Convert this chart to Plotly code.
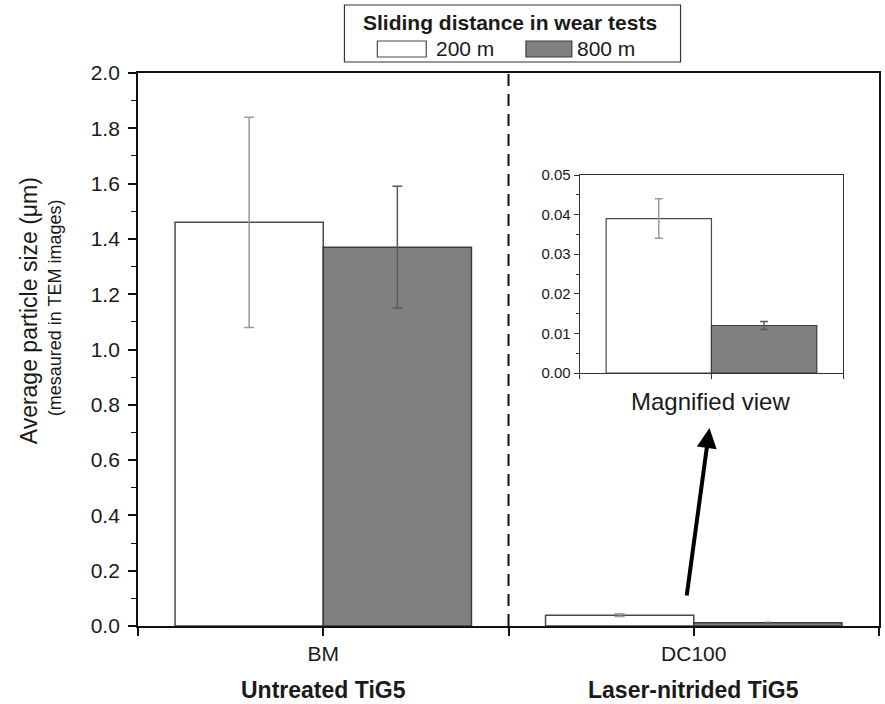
import plotly.graph_objects as go

categories = ["BM", "DC100"]
group_labels = ["Untreated TiG5", "Laser-nitrided TiG5"]
series_names = ["200 m", "800 m"]
size_200 = [1.46, 0.039]
err_200 = [0.38, 0.005]
size_800 = [1.37, 0.012]
err_800 = [0.22, 0.001]
inset_index = 1  # DC100 magnified
legend_title = "Sliding distance in wear tests"

FONT = "Liberation Sans, Arial, sans-serif"
TXT = "#1a1a1a"
xpos = list(range(len(categories)))

fig = go.Figure()

styles = [
    dict(fill="#ffffff", line="#4a4a4a", err="#9a9a9a"),
    dict(fill="#808080", line="#3c3c3c", err="#5a5a5a"),
]
vals = [size_200, size_800]
errs = [err_200, err_800]

for i, name in enumerate(series_names):
    st = styles[i]
    fig.add_trace(go.Bar(
        x=xpos, y=vals[i], name=name, offsetgroup=str(i),
        marker=dict(color=st["fill"], line=dict(color=st["line"], width=1.5)),
        error_y=dict(type="data", array=errs[i], color=st["err"], thickness=1.5, width=5),
        xaxis="x", yaxis="y", showlegend=False,
    ))
    fig.add_trace(go.Bar(
        x=[0], y=[vals[i][inset_index]], name=name, offsetgroup=str(i),
        marker=dict(color=st["fill"], line=dict(color=st["line"], width=1.2)),
        error_y=dict(type="data", array=[errs[i][inset_index]], color=st["err"], thickness=1.5, width=4),
        xaxis="x2", yaxis="y2", showlegend=False,
    ))

L, R, T, B = 138, 4, 73, 78
W, H = 885, 704
pw, ph = W - L - R, H - T - B

def px_x(p):
    return (p - L) / pw

def px_y(p):
    return (H - B - p) / ph

def dx(p):
    return -0.5 + 2.0 * (p - L) / pw

def dy(p):
    return 2.0 * (H - B - p) / ph

fig.update_layout(
    width=W, height=H,
    margin=dict(l=L, r=R, t=T, b=B),
    paper_bgcolor="white", plot_bgcolor="white",
    barmode="group", bargap=0.2, bargroupgap=0,
    font=dict(family=FONT, color=TXT, size=18),
    showlegend=False,
    xaxis=dict(
        domain=[0, 1], range=[-0.5, 1.5],
        tickmode="array", tickvals=[-0.5, 0, 0.5, 1, 1.5],
        ticktext=["", categories[0], "", categories[1], ""],
        ticks="outside", ticklen=8, tickwidth=1.5, tickcolor="#111",
        showline=True, linecolor="#111", linewidth=1.8, mirror=True,
        showgrid=False, zeroline=False, tickfont=dict(size=21),
    ),
    yaxis=dict(
        domain=[0, 1], range=[0, 2], dtick=0.2, tickformat=".1f",
        ticks="outside", ticklen=8, tickwidth=1.5, tickcolor="#111",
        ticklabelstandoff=4,
        minor=dict(dtick=0.1, ticks="outside", ticklen=5, tickwidth=1.2, tickcolor="#111"),
        showline=True, linecolor="#111", linewidth=1.8, mirror=True,
        showgrid=False, zeroline=False, tickfont=dict(size=21),
    ),
    xaxis2=dict(
        domain=[px_x(581), px_x(845)], anchor="y2", range=[-0.5, 0.5],
        tickmode="array", tickvals=[-0.5, 0, 0.5], ticktext=["", "", ""],
        ticks="outside", ticklen=5, tickwidth=1.2, tickcolor="#333",
        showline=True, linecolor="#333", linewidth=1.2, mirror=True,
        showgrid=False, zeroline=False,
    ),
    yaxis2=dict(
        domain=[px_y(373), px_y(175)], anchor="x2", range=[0, 0.05], dtick=0.01,
        tickformat=".2f",
        ticks="outside", ticklen=5, tickwidth=1.2, tickcolor="#333",
        minor=dict(dtick=0.005, ticks="outside", ticklen=3, tickwidth=1, tickcolor="#333"),
        showline=True, linecolor="#333", linewidth=1.2, mirror=True,
        showgrid=False, zeroline=False, tickfont=dict(size=15),
    ),
)

# dashed separator between groups
fig.add_shape(type="line", xref="x", yref="y", x0=0.5, x1=0.5, y0=0, y1=2,
              line=dict(color="#111", width=2, dash="12px,8px"))

# y-axis titles
fig.add_annotation(text="Average particle size (\u03bcm)", xref="paper", yref="paper",
                   x=px_x(29), y=px_y(311), textangle=-90, showarrow=False,
                   font=dict(size=23, family=FONT, color=TXT), xanchor="center", yanchor="middle")
fig.add_annotation(text="(mesaured in TEM images)", xref="paper", yref="paper",
                   x=px_x(55), y=px_y(308), textangle=-90, showarrow=False,
                   font=dict(size=18, family=FONT, color=TXT), xanchor="center", yanchor="middle")

# group labels
for i, g in enumerate(group_labels):
    fig.add_annotation(text="<b>%s</b>" % g, xref="x", yref="paper", x=xpos[i], y=px_y(690),
                       showarrow=False, font=dict(size=23, family=FONT, color=TXT),
                       xanchor="center", yanchor="middle")

# inset caption
fig.add_annotation(text="Magnified view", xref="paper", yref="paper", x=px_x(712), y=px_y(401),
                   showarrow=False, font=dict(size=24, family=FONT, color=TXT),
                   xanchor="center", yanchor="middle")

# arrow pointing to inset
fig.add_annotation(text="", xref="x", yref="y", x=dx(711), y=dy(428),
                   axref="x", ayref="y", ax=dx(688), ay=dy(597),
                   showarrow=True, arrowhead=2, arrowsize=1, arrowwidth=4, arrowcolor="#000")

# legend (drawn as a framed key with wide swatches)
fig.add_shape(type="rect", xref="paper", yref="paper",
              x0=px_x(345), x1=px_x(682), y0=px_y(62), y1=px_y(5),
              line=dict(color="#333", width=1.2), fillcolor="white")
fig.add_annotation(text="<b>%s</b>" % legend_title, xref="paper", yref="paper",
                   x=px_x(511), y=px_y(23), showarrow=False,
                   font=dict(size=21, family=FONT, color=TXT), xanchor="center", yanchor="middle")
swatch_x = [(378, 427), (527, 573)]
for i, name in enumerate(series_names):
    x0, x1 = swatch_x[i]
    fig.add_shape(type="rect", xref="paper", yref="paper",
                  x0=px_x(x0), x1=px_x(x1), y0=px_y(57), y1=px_y(41),
                  line=dict(color=styles[i]["line"], width=1.2), fillcolor=styles[i]["fill"])
    fig.add_annotation(text=name, xref="paper", yref="paper",
                       x=px_x(x1 + 8 if i == 0 else x1 + 3), y=px_y(49), showarrow=False,
                       font=dict(size=21, family=FONT, color=TXT), xanchor="left", yanchor="middle")

fig.write_html("out.html")
